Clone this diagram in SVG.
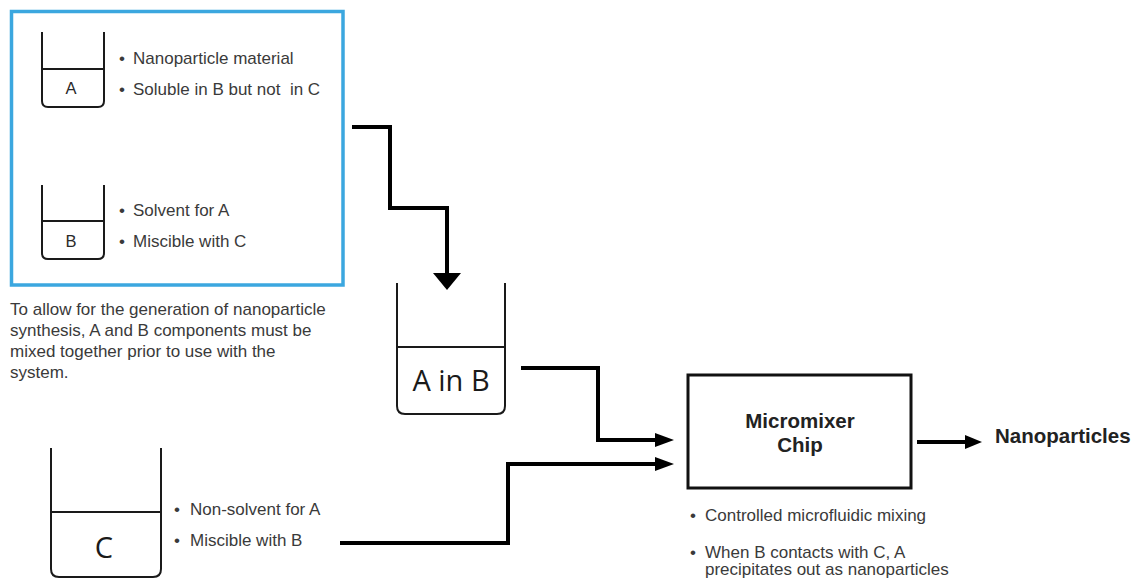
<svg xmlns="http://www.w3.org/2000/svg" width="1140" height="578" viewBox="0 0 1140 578">
<style>
  .txt { font-family: "Liberation Sans", Arial, sans-serif; font-size: 17px; fill: #3a3a3a; }
  .small { font-family: "Liberation Sans", Arial, sans-serif; font-size: 16.5px; fill: #2a2a2a; }
  .big { font-family: "Open Sans", "Liberation Sans", sans-serif; font-size: 29px; fill: #1a1a1a; }
  .bold { font-family: "Liberation Sans", Arial, sans-serif; font-size: 20.5px; font-weight: bold; fill: #222; }
  .beaker { fill: none; stroke: #1a1a1a; stroke-width: 2; }
  .conn { fill: none; stroke: #000; stroke-width: 4; stroke-linejoin: miter; }
  .head { fill: #000; }
</style>
<rect width="1140" height="578" fill="#fff"/>

<g id="group-AB">
  <rect x="11.5" y="11.5" width="331.5" height="273.5" fill="none" stroke="#3BA7DF" stroke-width="3.5"/>
</g>

<g id="beaker-A">
  <path class="beaker" d="M42,32 V101 Q42,107 48,107 H98 Q104,107 104,101 V32"/>
  <line class="beaker" x1="42" y1="69" x2="104" y2="69"/>
  <text class="small" x="71" y="94" text-anchor="middle">A</text>
  <text class="txt" x="119" y="64">•</text>
  <text class="txt" x="133" y="64">Nanoparticle material</text>
  <text class="txt" x="119" y="95">•</text>
  <text class="txt" x="133" y="95" xml:space="preserve">Soluble in B but not  in C</text>
</g>

<g id="beaker-B">
  <path class="beaker" d="M42,185 V253 Q42,259 48,259 H98 Q104,259 104,253 V185"/>
  <line class="beaker" x1="42" y1="221" x2="104" y2="221"/>
  <text class="small" x="71" y="247" text-anchor="middle">B</text>
  <text class="txt" x="119" y="216">•</text>
  <text class="txt" x="133" y="216">Solvent for A</text>
  <text class="txt" x="119" y="247">•</text>
  <text class="txt" x="133" y="247">Miscible with C</text>
</g>

<g id="note">
  <text class="txt" x="10" y="315">To allow for the generation of nanoparticle</text>
  <text class="txt" x="10" y="336">synthesis, A and B components must be</text>
  <text class="txt" x="10" y="357">mixed together prior to use with the</text>
  <text class="txt" x="10" y="378">system.</text>
</g>

<g id="beaker-AinB">
  <path class="beaker" d="M397,283 V406 Q397,414 405,414 H497 Q505,414 505,406 V283"/>
  <line class="beaker" x1="397" y1="347" x2="505" y2="347"/>
  <text class="big" x="451" y="391" text-anchor="middle">A in B</text>
</g>

<g id="beaker-C">
  <path class="beaker" d="M51,448 V569 Q51,577 59,577 H153 Q161,577 161,569 V448"/>
  <line class="beaker" x1="51" y1="512" x2="161" y2="512"/>
  <text class="big" x="104" y="558" text-anchor="middle">C</text>
  <text class="txt" x="174" y="515">•</text>
  <text class="txt" x="190" y="515">Non-solvent for A</text>
  <text class="txt" x="174" y="546">•</text>
  <text class="txt" x="190" y="546">Miscible with B</text>
</g>

<g id="micromixer">
  <rect x="688" y="375" width="223" height="113" fill="none" stroke="#111" stroke-width="3"/>
  <text class="bold" x="800" y="428" text-anchor="middle">Micromixer</text>
  <text class="bold" x="800" y="452" text-anchor="middle">Chip</text>
  <text class="txt" x="690" y="521">•</text>
  <text class="txt" x="705" y="521">Controlled microfluidic mixing</text>
  <text class="txt" x="690" y="558">•</text>
  <text class="txt" x="705" y="558">When B contacts with C, A</text>
  <text class="txt" x="705" y="575">precipitates out as nanoparticles</text>
</g>

<g id="nanoparticles">
  <text class="bold" x="995" y="443">Nanoparticles</text>
</g>

<g id="connectors">
  <path class="conn" d="M352,127 H390 V208 H447 V275"/>
  <polygon class="head" points="433,273 461,273 447,290"/>
  <path class="conn" d="M521,368 H598 V440 H657"/>
  <polygon class="head" points="655,433 674,440 655,447"/>
  <path class="conn" d="M340,543 H508 V464 H657"/>
  <polygon class="head" points="655,457 674,464 655,471"/>
  <path class="conn" d="M917,442 H967" stroke-width="3.5"/>
  <polygon class="head" points="965,435 982,442 965,449"/>
</g>
</svg>
